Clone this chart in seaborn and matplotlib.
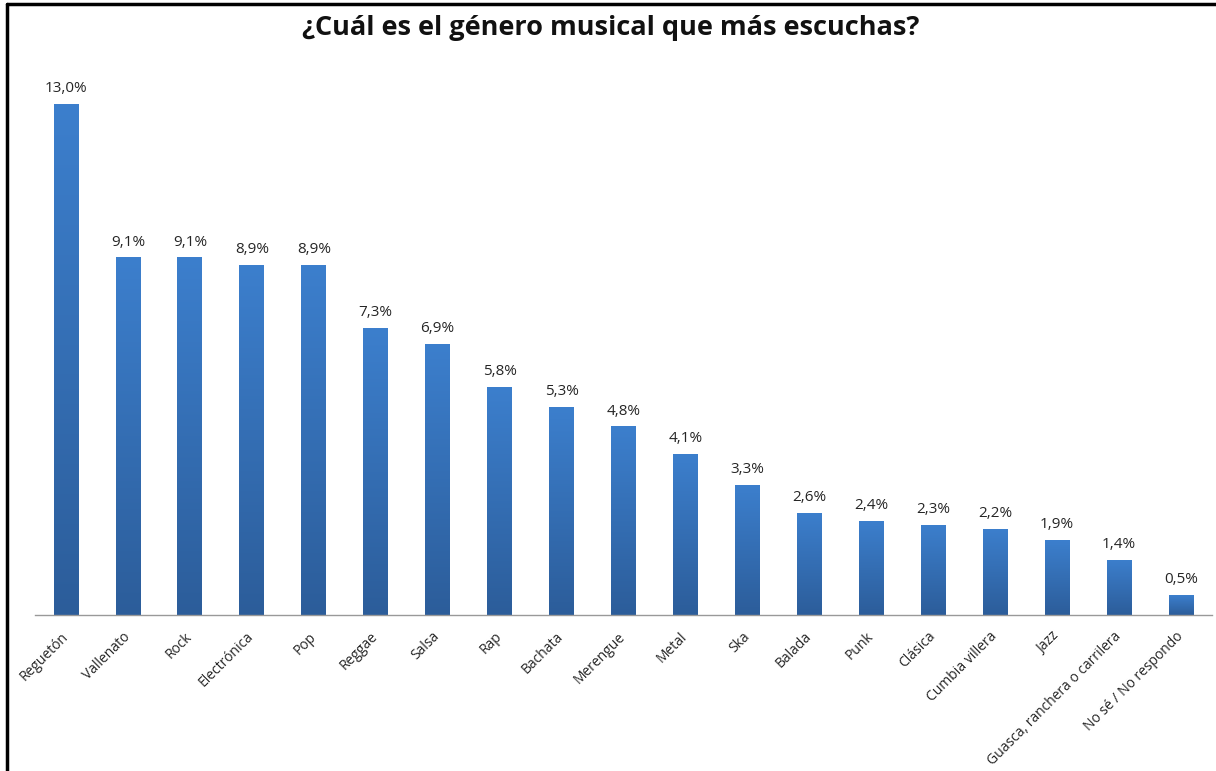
import matplotlib
matplotlib.use("Agg")
import matplotlib.pyplot as plt
import seaborn as sns
import numpy as np
import pandas as pd
from matplotlib.lines import Line2D
from matplotlib.colors import LinearSegmentedColormap

categories = ["Reguetón", "Vallenato", "Rock", "Electrónica", "Pop", "Reggae", "Salsa",
              "Rap", "Bachata", "Merengue", "Metal", "Ska", "Balada", "Punk", "Clásica",
              "Cumbia villera", "Jazz", "Guasca, ranchera o carrilera", "No sé / No respondo"]
values = [13.0, 9.1, 9.1, 8.9, 8.9, 7.3, 6.9, 5.8, 5.3, 4.8, 4.1, 3.3, 2.6, 2.4, 2.3, 2.2, 1.9, 1.4, 0.5]
labels = ["13,0%", "9,1%", "9,1%", "8,9%", "8,9%", "7,3%", "6,9%", "5,8%", "5,3%", "4,8%",
          "4,1%", "3,3%", "2,6%", "2,4%", "2,3%", "2,2%", "1,9%", "1,4%", "0,5%"]
title = "¿Cuál es el género musical que más escuchas?"

sns.set_theme(style="white")
plt.rcParams['font.family'] = ['Open Sans', 'DejaVu Sans']

W, H = 1216, 771
fig = plt.figure(figsize=(W / 100, H / 100), dpi=100)
ax = fig.add_axes([35 / W, 1 - 615 / H, (1212 - 35) / W, (615 - 75) / H])

df = pd.DataFrame({"cat": categories, "val": values})
sns.barplot(data=df, x="cat", y="val", ax=ax, color="#3A7CC9", width=0.4, saturation=1)

ax.set_xlim(-0.5, len(categories) - 0.5)
ax.set_ylim(0, 540 / 39.3)

cmap = LinearSegmentedColormap.from_list("g", ["#2C5D9A", "#3C7FCD"])
grad = np.linspace(0, 1, 256).reshape(-1, 1)
for p in list(ax.patches):
    x0, y0 = p.get_x(), p.get_y()
    w, h = p.get_width(), p.get_height()
    im = ax.imshow(grad, cmap=cmap, aspect="auto", origin="lower",
                   extent=[x0, x0 + w, y0, y0 + h], zorder=p.get_zorder() + 0.1)
    im.set_clip_path(p)
    p.set_edgecolor("none")

for i, (v, lab) in enumerate(zip(values, labels)):
    ax.text(i, v + 0.2, lab, ha="center", va="bottom", fontsize=11, color="#262626")

ax.set_xlabel("")
ax.set_ylabel("")
ax.set_yticks([])
ax.set_xticks(range(len(categories)))
ax.set_xticklabels(categories, rotation=45, ha="right", va="center", rotation_mode="anchor",
                   fontsize=10, color="#262626")
ax.tick_params(axis="x", length=0, pad=14)
for s in ["top", "right", "left"]:
    ax.spines[s].set_visible(False)
ax.spines["bottom"].set_color("#999999")
ax.spines["bottom"].set_linewidth(1)

fig.text(611 / W, 1 - 28 / H, title, ha="center", va="center", fontsize=19.5,
         fontweight="bold", color="#111111")

fig.add_artist(Line2D([7 / W, 7 / W], [0, 1 - 4 / H], transform=fig.transFigure,
                      color="black", linewidth=2.5))
fig.add_artist(Line2D([7 / W, 1], [1 - 4 / H, 1 - 4 / H], transform=fig.transFigure,
                      color="black", linewidth=2.5))

fig.savefig("out.png", dpi=100, facecolor="white")
